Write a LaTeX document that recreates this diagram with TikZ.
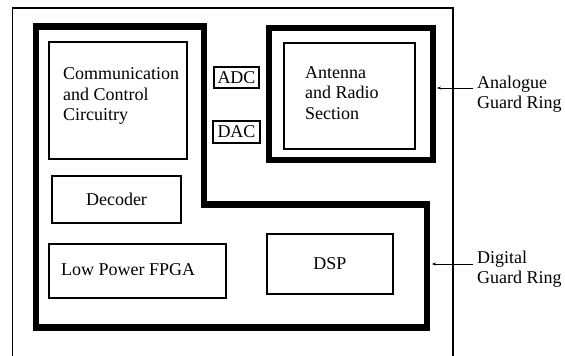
\documentclass[tikz,border=0pt]{standalone}
\usepackage{fontspec}
\setmainfont{Liberation Serif}
\usetikzlibrary{arrows.meta}
\begin{document}
\begin{tikzpicture}[x=1pt,y=-1pt,
  blk/.style={draw,line width=1.4pt,inner sep=0pt,font=\fontsize{18}{20.5}\selectfont},
  ring/.style={line width=6.5pt,line join=miter},
  lbl/.style={anchor=west,align=left,inner sep=0pt,font=\fontsize{18}{20.5}\selectfont},
  lead/.style={line width=0.9pt,-{Stealth[length=4pt,width=3pt]}}]
\useasboundingbox (0,0) rectangle (565,356);
\fill[white] (0,0) rectangle (565,356);
% outer chip outline
\draw[line width=1.6pt] (12.5,360) -- (12.5,8) -- (453,8) -- (453,360);
% guard rings
\draw[ring] (36,26.5) -- (204,26.5) -- (204,204.5) -- (427,204.5) -- (427,327.5) -- (36,327.5) -- cycle;
\draw[ring] (269,28) rectangle (433,160);
% blocks
\node[blk,minimum width=138pt,minimum height=117pt] (comm) at (118,100.5) {};
\node[lbl,anchor=west] (commt) at (63,96) {Communication\\and Control\\Circuitry};
\node[blk,minimum width=45pt,minimum height=21pt] (adc) at (236.5,77.5) {ADC};
\node[blk,minimum width=47pt,minimum height=22pt] (dac) at (236.5,132) {DAC};
\node[blk,minimum width=131pt,minimum height=106pt] (ant) at (349.5,96) {};
\node[lbl,anchor=west] (antt) at (305,93) {Antenna\\and Radio\\Section};
\node[blk,minimum width=129pt,minimum height=47pt] (dec) at (116.5,199.5) {Decoder};
\node[blk,minimum width=177pt,minimum height=54pt] (fpga) at (137.5,271) {};
\node[lbl,anchor=west] (fpgat) at (61,270) {Low Power FPGA};
\node[blk,minimum width=126pt,minimum height=60pt] (dsp) at (330,264) {DSP};
% labels
\node[lbl] (al) at (477,94) {Analogue\\Guard Ring};
\node[lbl] (dl) at (477,269) {Digital\\Guard Ring};
\coordinate (aring) at (437,88);
\coordinate (dring) at (432,264);
\draw[lead] ([xshift=-4pt]aring -| al.west) -- (aring);
\draw[lead] ([xshift=-4pt]dring -| dl.west) -- (dring);
\end{tikzpicture}
\end{document}
